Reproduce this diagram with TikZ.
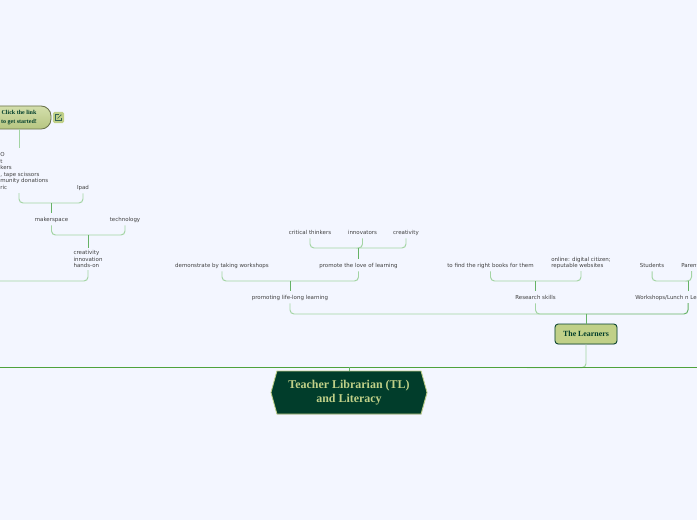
\documentclass[tikz,border=0pt]{standalone}
\usepackage{fontspec}
\setmainfont{DejaVu Sans}
\newfontfamily\titlefont{Liberation Serif}
\usetikzlibrary{shapes.geometric, shapes.symbols, arrows.meta, positioning, calc, fit, backgrounds, shadows}
\definecolor{pagebg}{HTML}{F3F6FF}
\definecolor{olive}{HTML}{C0D088}
\definecolor{pine}{HTML}{013D2B}
\definecolor{stemgreen}{HTML}{66B266}
\definecolor{bracegreen}{HTML}{A3D4A3}
\definecolor{maingreen}{HTML}{4EA23C}
\tikzset{
  leaf/.style      = {inner sep=0pt, minimum height=0.3cm, text height=3.6pt, text depth=0.2pt,
                      text=black!75, font=\fontsize{3.9}{4.7}\selectfont},
  leafblock/.style = {inner xsep=0pt, inner ysep=1.4pt, align=left, text=black!75,
                      font=\fontsize{3.9}{4.7}\selectfont},
  brace/.style     = {draw=bracegreen, line width=0.7pt, rounded corners=0.1cm},
  stem/.style      = {draw=stemgreen, line width=0.7pt},
  mainline/.style  = {draw=maingreen, line width=0.7pt},
  softshadow/.style = {drop shadow={opacity=0.2, shadow xshift=0.3pt, shadow yshift=-0.6pt}},
  topic/.style     = {rectangle, draw=pine, fill=olive, rounded corners=0.08cm, line width=0.6pt,
                      minimum width=1.55cm, minimum height=0.5cm, text=pine, softshadow,
                      font=\titlefont\fontsize{5.6}{6.5}\selectfont\bfseries},
}

\begin{document}
\begin{tikzpicture}[x=0.025cm, y=-0.025cm]
    \useasboundingbox[fill=pagebg] (0,0) rectangle (697,520);

    %% Central topic and main branch
    \node[signal, signal to=west and east, signal pointer angle=149, draw=olive, fill=pine,
          line width=0.6pt, inner sep=0pt, minimum width=3.9cm, minimum height=1.075cm, softshadow,
          align=center, text=olive, font=\titlefont\fontsize{8.5}{9.6}\selectfont\bfseries]
          (teacher) at (349,392.5) {Teacher Librarian (TL)\\and Literacy};
    \node[topic] (learners) at (586,334) {The Learners};

    %% Link box, only its right part is on the page
    \node[rectangle, draw=black!45!olive, top color=olive!70, bottom color=olive!95!black,
          rounded corners=0.25cm, line width=0.6pt, minimum width=1.6cm, minimum height=0.52cm,
          align=center, text=pine, font=\titlefont\fontsize{4.3}{5.8}\selectfont\bfseries]
          (link) at (19,117.5) {Click the link\\to get started!};
    \node[rectangle, fill=olive, rounded corners=0.04cm, minimum size=0.28cm, inner sep=0pt]
          (linkicon) at (58.5,117.5) {};
    \draw[pine!80, line width=0.35pt] ($(linkicon)+(0,-3)$) -- ($(linkicon)+(-3,-3)$) -- ($(linkicon)+(-3,3)$)
          -- ($(linkicon)+(3,3)$) -- ($(linkicon)+(3,0)$);
    \draw[pine!80, line width=0.35pt, -{Stealth[length=1pt]}] ($(linkicon)+(-1,1)$) -- ($(linkicon)+(3,-3)$);

    %% Text cut by the left edge
    \node[leaf, anchor=west] (lego)     at (0,154) {O};
    \node[leaf, anchor=west] (robot)    at (0,161) {t};
    \node[leaf, anchor=west] (makers)   at (0,167) {kers};
    \node[leaf, anchor=west] (tape)     at (0,174) {, tape scissors};
    \node[leaf, anchor=west] (donation) at (0,180) {munity donations};
    \node[leaf, anchor=west] (fabric)   at (0,187) {ric};

    %% Leaves, left side
    \node[leaf] (ipad)       at (83,187)  {Ipad};
    \node[leaf] (makerspace) at (51.5,219) {makerspace};
    \node[leaf] (technology) at (125,219) {technology};
    \node[leafblock, anchor=south] (creative) at (88,270) {creativity\\innovation\\hands-on};

    %% Leaves, promoting
    \node[leaf] (critical)   at (310,232) {critical thinkers};
    \node[leaf] (innovators) at (362.5,232) {innovators};
    \node[leaf] (creativity) at (406,232) {creativity};
    \node[leaf] (demo)       at (222,265) {demonstrate by taking workshops};
    \node[leaf] (promote)    at (358.5,265) {promote the love of learning};
    \node[leaf] (lifelong)   at (290,297) {promoting life-long learning};

    %% Leaves, research and workshops
    \node[leaf] (books)      at (490.5,265) {to find the right books for them};
    \node[leafblock, anchor=south] (online) at (581,271) {online: digital citizen;\\reputable websites};
    \node[leaf] (research)   at (535.5,297) {Research skills};
    \node[leaf] (students)   at (652,265) {Students};
    \node[leaf, anchor=west] (parents)  at (681,265) {Parent};
    \node[leaf, anchor=west] (workshop) at (635,297) {Workshops/Lunch n Le};

    %% Hubs
    \coordinate (linkEnd)  at (19,148);
    \coordinate (hubIpad)  at (51.5,203);
    \coordinate (hubMaker) at (88,235);
    \coordinate (hubLeft)  at (0,281);
    \coordinate (hubCrit)  at (358.5,248);
    \coordinate (hubLife)  at (290,281);
    \coordinate (hubRes)   at (535.5,281);
    \coordinate (hubWork)  at (688,281);
    \coordinate (parentsDrop) at (691.5,271);
    \coordinate (fabricDrop)  at (19,193);
    \coordinate (hubMain)  at (586,314);
    \coordinate (edgeL)    at (0,367);
    \coordinate (edgeR)    at (697,367);
    \coordinate (floorL)   at (527,367.6);

    %% Connectors
    \draw[brace] (link.south -| linkEnd) -- (linkEnd);
    \draw[brace] (fabricDrop) |- (hubIpad);
    \draw[brace] (ipad.south) |- (hubIpad);
    \draw[stem]  (hubIpad) -- (makerspace.north);
    \draw[brace] (makerspace.south) |- (hubMaker);
    \draw[brace] (technology.south) |- (hubMaker);
    \draw[stem]  (hubMaker) -- (creative.north);
    \draw[brace] (creative.south) |- (hubLeft);

    \draw[brace] (critical.south) |- (hubCrit);
    \draw[brace] (creativity.south) |- (hubCrit);
    \draw[brace] (innovators.south) |- (hubCrit);
    \draw[stem]  (hubCrit) -- (promote.north);
    \draw[brace] (demo.south) |- (hubLife);
    \draw[brace] (promote.south) |- (hubLife);
    \draw[stem]  (hubLife) -- (lifelong.north);
    \draw[brace] (lifelong.south) |- (hubMain);

    \draw[brace] (books.south) |- (hubRes);
    \draw[brace] (online.south) |- (hubRes);
    \draw[stem]  (hubRes) -- (research.north);
    \draw[brace] (students.south) |- (hubWork);
    \draw[brace] (parentsDrop) |- (hubWork);
    \draw[stem]  (hubWork) -- ($(hubWork)+(0,10)$);
    \draw[brace] (research.south) |- (hubMain);
    \draw[stem, rounded corners=0.1cm] ($(hubWork)+(0,22)$) |- (hubMain);
    \draw[stem]  (hubMain) -- (learners.north);

    \draw[brace] (learners.south) |- (floorL);
    \draw[mainline] (edgeL) -- (edgeR);
    \draw[stem] (teacher.north) -- (teacher.north |- edgeL);
\end{tikzpicture}
\end{document}
